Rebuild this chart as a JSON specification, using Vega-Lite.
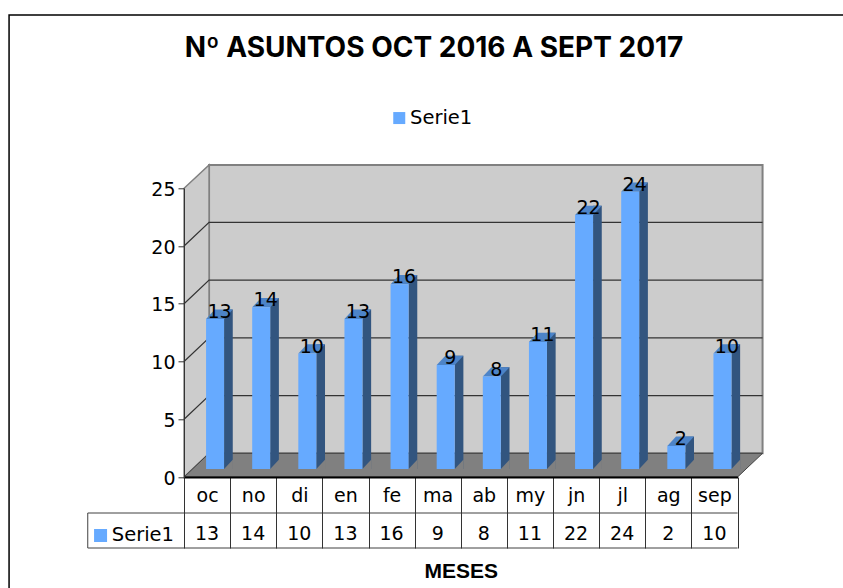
{"$schema":"https://vega.github.io/schema/vega-lite/v6.json","width":553.5,"height":288.7,"autosize":"none","padding":{"left":184,"top":188.3,"right":105.5,"bottom":111},"background":"#ffffff","config":{"view":{"stroke":null}},
"title":{"text":"Nº ASUNTOS OCT 2016 A SEPT 2017","font":"Inter","fontSize":28,"fontWeight":"bold","color":"#000000","anchor":"middle","frame":"group","baseline":"alphabetic","offset":-73,"dx":-26.7},
"data":{"values":[{"m":"oc","v":13,"s":"Serie1"},{"m":"no","v":14,"s":"Serie1"},{"m":"di","v":10,"s":"Serie1"},{"m":"en","v":13,"s":"Serie1"},{"m":"fe","v":16,"s":"Serie1"},{"m":"ma","v":9,"s":"Serie1"},{"m":"ab","v":8,"s":"Serie1"},{"m":"my","v":11,"s":"Serie1"},{"m":"jn","v":22,"s":"Serie1"},{"m":"jl","v":24,"s":"Serie1"},{"m":"ag","v":2,"s":"Serie1"},{"m":"sep","v":10,"s":"Serie1"}]},
"encoding":{
"x":{"field":"m","type":"nominal","sort":null,"scale":{"domain":["oc","no","di","en","fe","ma","ab","my","jn","jl","ag","sep"],"paddingInner":0,"paddingOuter":0},"axis":{"orient":"bottom","title":"MESES","titleFont":"Liberation Sans","titleFontSize":21,"titleFontWeight":"bold","titleColor":"#000000","titleY":100,"titleBaseline":"alphabetic","labelFont":"DejaVu Sans","labelFontSize":19,"labelColor":"#000000","labelAngle":0,"labelBaseline":"alphabetic","labelPadding":-47,"tickBand":"extent","tickSize":71,"tickColor":"#333333","tickWidth":1,"domainColor":"#000000","domainWidth":2,"zindex":1}},
"y":{"field":"v","type":"quantitative","stack":null,"scale":{"domain":[0,25],"nice":false},"axis":{"title":null,"values":[0,5,10,15,20,25],"labelFont":"DejaVu Sans","labelFontSize":19,"labelColor":"#000000","labelPadding":3,"labelOffset":1,"tickSize":6,"tickColor":"#333333","domainColor":"#333333","domainWidth":1,"grid":false,"zindex":1}}
},
"layer":[
{"data":{"values":[{"m":"oc","v":0}]},"mark":{"type":"point","shape":"M2,-23.7 L555.5,-23.7 L555.5,-312 L2,-312 Z","size":4,"filled":true,"opacity":1,"fill":"#cccccc","stroke":"#808080","strokeWidth":2}},
{"data":{"values":[{"m":"oc","v":0}]},"mark":{"type":"point","shape":"M-23,0 L2,-23.7 L2,-312 L-23,-288.7 Z","size":4,"filled":true,"opacity":1,"fill":"#cccccc","stroke":"#808080","strokeWidth":1.5}},
{"data":{"values":[{"m":"oc","v":0}]},"mark":{"type":"point","shape":"M-23,0 L2,-23.7 L555.5,-23.7 L530.5,0 Z","size":4,"filled":true,"opacity":1,"fill":"#808080","stroke":"#404040","strokeWidth":1}},
{"data":{"values":[{"m":"oc","v":5},{"m":"oc","v":10},{"m":"oc","v":15},{"m":"oc","v":20}]},"mark":{"type":"point","shape":"M-23,0 L2,-23.7 L555.5,-23.7","size":4,"filled":false,"opacity":1,"stroke":"#333333","strokeWidth":1.2}},
{"mark":{"type":"bar","size":8.7,"xOffset":21.35,"yOffset":-17.3,"y2Offset":-8,"color":"#32557f"},"encoding":{"y2":{"datum":0}}},
{"mark":{"type":"point","shape":"M-1,-8 L17,-8 L25.7,-17.3 L7.7,-17.3 Z","size":4,"filled":true,"opacity":1,"fill":"#4d84c8","strokeWidth":0}},
{"mark":{"type":"point","shape":"M17,-8 L25.9,-8 L25.9,-17.4 Z","size":4,"filled":true,"opacity":1,"fill":"#808080","strokeWidth":0},"encoding":{"y":{"datum":0}}},
{"mark":{"type":"bar","size":18,"xOffset":8,"yOffset":-8,"y2Offset":-8},"encoding":{"y2":{"datum":0},"color":{"field":"s","type":"nominal","scale":{"range":["#66aaff"]},"legend":{"title":null,"orient":"none","legendX":205.5,"legendY":-80,"padding":0,"symbolType":"square","symbolSize":144,"symbolStrokeWidth":0,"labelFont":"DejaVu Sans","labelFontSize":19.5,"labelColor":"#000000","labelOffset":1}}}},
{"mark":{"type":"text","font":"DejaVu Sans","fontSize":19,"color":"#000000","xOffset":12.5,"yOffset":-9,"baseline":"alphabetic"},"encoding":{"text":{"field":"v","type":"quantitative"}}},
{"mark":{"type":"text","font":"DejaVu Sans","fontSize":19,"color":"#000000","yOffset":63,"baseline":"alphabetic"},"encoding":{"y":{"datum":0},"text":{"field":"v","type":"quantitative"}}},
{"data":{"values":[{"m":"oc","v":0}]},"mark":{"type":"point","shape":"M-119.3,36 L530.5,36 M-119.3,71 L530.5,71 M-119.3,36 L-119.3,71","size":4,"filled":false,"opacity":1,"stroke":"#404040","strokeWidth":1}},
{"data":{"values":[{"m":"oc","v":0}]},"mark":{"type":"point","shape":"M-113,52 L-100,52 L-100,65 L-113,65 Z","size":4,"filled":true,"opacity":1,"fill":"#66aaff","strokeWidth":0}},
{"data":{"values":[{"m":"oc","v":0,"s":"Serie1"}]},"mark":{"type":"text","font":"DejaVu Sans","fontSize":19.5,"color":"#000000","align":"left","baseline":"alphabetic","xOffset":-95.3,"yOffset":64},"encoding":{"text":{"field":"s"}}},
{"data":{"values":[{"m":"oc","v":0}]},"mark":{"type":"point","shape":"M-198,115 L-198,-462 L640,-462","size":4,"filled":false,"opacity":1,"stroke":"#000000","strokeWidth":1.5}}
]}
